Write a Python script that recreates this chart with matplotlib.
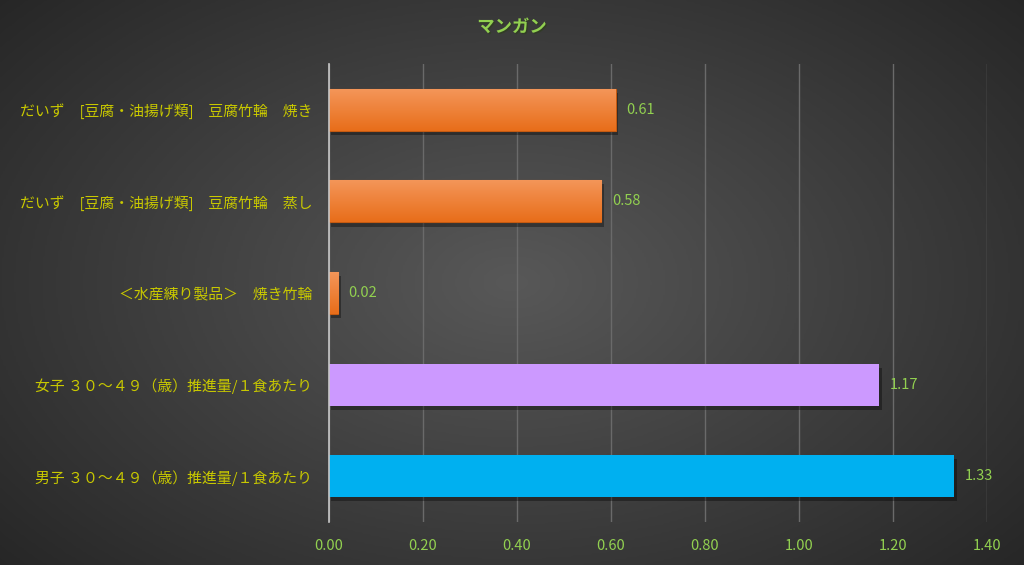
import numpy as np
import matplotlib.pyplot as plt
from matplotlib import patheffects as pe
from matplotlib.colors import LinearSegmentedColormap

plt.rcParams['font.family'] = ['Noto Sans CJK JP', 'DejaVu Sans']

# data (bottom to top)
labels = ['男子 ３０～４９（歳）推進量/１食あたり',
          '女子 ３０～４９（歳）推進量/１食あたり',
          '＜水産練り製品＞　焼き竹輪',
          'だいず　[豆腐・油揚げ類]　豆腐竹輪　蒸し',
          'だいず　[豆腐・油揚げ類]　豆腐竹輪　焼き']
values = [1.33, 1.17, 0.02, 0.58, 0.61]
colors = ['#00B0F0', '#CC99FF', '#ED7D31', '#ED7D31', '#ED7D31']
xticks = [0.0, 0.2, 0.4, 0.6, 0.8, 1.0, 1.2, 1.4]

fig = plt.figure(figsize=(10.24, 5.65), dpi=100)

# radial gradient background
bg = fig.add_axes([0, 0, 1, 1], zorder=-10)
yy, xx = np.mgrid[-1:1:300j, -1:1:500j]
r = np.sqrt((xx * 0.85) ** 2 + (yy * 0.75) ** 2)
bgmap = LinearSegmentedColormap.from_list('bg', ['#585858', '#262626'])
bg.imshow(r, cmap=bgmap, vmin=0, vmax=1.15, aspect='auto',
          extent=[0, 1, 0, 1], interpolation='bilinear')
bg.axis('off')

ax = fig.add_axes([0.321, 0.076, 0.643, 0.811])
ax.patch.set_alpha(0)
y = np.arange(len(labels))
shadow = [pe.SimplePatchShadow(offset=(2, -3), shadow_rgbFace='black', alpha=0.35),
          pe.Normal()]
orange = LinearSegmentedColormap.from_list('o', ['#E86E1A', '#F4965A'])
bars = ax.barh(y, values, height=0.46, color=colors, zorder=3)
for b, c in zip(bars, colors):
    b.set_path_effects(shadow)
    if c == '#ED7D31':
        b.set_edgecolor('#C55A11')
        b.set_linewidth(0.8)
        x0, y0 = b.get_x(), b.get_y()
        w, h = b.get_width(), b.get_height()
        grad = np.linspace(0, 1, 50).reshape(-1, 1)
        im = ax.imshow(grad, cmap=orange, aspect='auto',
                       extent=[x0, x0 + w, y0, y0 + h], origin='lower', zorder=4)
        im.set_clip_path(b)

for yi, v in zip(y, values):
    ax.text(v + 0.022, yi, f'{v:.2f}', va='center', ha='left',
            color='#92D050', fontsize=10.5, zorder=5)

ax.set_xlim(0, 1.4)
ax.set_ylim(-0.5, 4.5)
ax.set_xticks(xticks)
ax.set_xticklabels([f'{t:.2f}' for t in xticks])
ax.set_yticks(y)
ax.set_yticklabels(labels)
ax.tick_params(axis='x', colors='#92D050', length=0, labelsize=10.5, pad=12)
ax.tick_params(axis='y', colors='#C8C800', length=0, labelsize=10.7, pad=12)
ax.grid(axis='x', color='#6A6A6A', linewidth=1, zorder=0)
for s in ['top', 'right', 'bottom']:
    ax.spines[s].set_visible(False)
ax.spines['left'].set_color('#C8C8C8')
ax.spines['left'].set_linewidth(1.2)
ax.spines['left'].set_zorder(6)

fig.text(0.5, 0.952, 'マンガン', ha='center', va='center', color='#92D050',
         fontsize=12.5, fontweight='bold',
         path_effects=[pe.withSimplePatchShadow(offset=(1, -1), alpha=0.6)])

fig.savefig('out.png', dpi=100)
